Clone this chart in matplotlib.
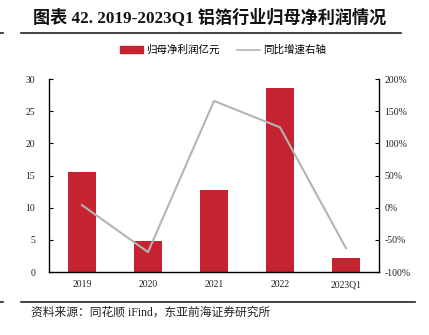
import matplotlib.pyplot as plt
from matplotlib.lines import Line2D
from matplotlib.patches import Patch
from matplotlib.ticker import FuncFormatter
import numpy as np

years = ['2019', '2020', '2021', '2022', '2023Q1']
profit = [15.6, 4.9, 12.7, 28.6, 2.2]  # 归母净利润, 亿元
yoy = [4, -69, 166, 125, -63]  # 同比增速, %

CN = ['Liberation Serif', 'Noto Sans CJK SC']
RED = '#C4232F'
GREY = '#B4B4B4'

def main():
    fig = plt.figure(figsize=(4.29, 3.35), dpi=100)
    ax = fig.add_axes([0.1142, 0.188, 0.7692, 0.576])
    x = np.arange(len(years))
    ax.bar(x, profit, width=0.42, color=RED, zorder=2)
    ax.set_ylim(0, 30); ax.set_yticks(range(0, 31, 5)); ax.set_xlim(-0.5, len(years) - 0.5)
    ax.set_xticks(x); ax.set_xticklabels(years)
    ax.tick_params(axis='y', direction='in', length=3, labelsize=7, pad=10)
    ax.tick_params(axis='x', length=0, labelsize=7, pad=6)
    ax.spines['top'].set_visible(False); ax.spines['right'].set_visible(False)
    for s in ('left', 'bottom'): ax.spines[s].set_linewidth(1.0)

    ax2 = ax.twinx()
    ax2.plot(x, yoy, color=GREY, lw=1.5, zorder=3)
    ax2.set_ylim(-100, 200); ax2.set_yticks(range(-100, 201, 50))
    ax2.yaxis.set_major_formatter(FuncFormatter(lambda v, p: f'{v:.0f}%'))
    ax2.tick_params(axis='y', direction='in', length=3, labelsize=7, pad=4)
    for s in ('top', 'left', 'bottom'): ax2.spines[s].set_visible(False)
    ax2.spines['right'].set_linewidth(1.0)
    for a in (ax, ax2):
        for lab in a.get_xticklabels() + a.get_yticklabels():
            lab.set_fontfamily('Liberation Serif'); lab.set_color('#222222')

    handles = [Patch(color=RED), Line2D([], [], color=GREY, lw=1.2)]
    fig.legend(handles, ['归母净利润亿元', '同比增速右轴'], loc='center', bbox_to_anchor=(0.52, 0.851),
               ncol=2, frameon=False, prop={'family': CN, 'size': 7.6}, handlelength=2.2, handleheight=0.55,
               handletextpad=0.3, columnspacing=1.6)

    fig.text(0.077, 0.948, '图表 42. 2019-2023Q1 铝箔行业归母净利润情况', family=CN, fontsize=12.3,
             fontweight='bold', va='center', color='#111111')
    fig.add_artist(Line2D([0.05, 0.935], [0.901, 0.901], color='#222222', lw=1.2))
    fig.add_artist(Line2D([0.0, 0.008], [0.901, 0.901], color='#222222', lw=1.2))
    fig.add_artist(Line2D([0.05, 0.967], [0.099, 0.099], color='#222222', lw=1.2))
    fig.add_artist(Line2D([0.0, 0.008], [0.099, 0.099], color='#222222', lw=1.2))
    fig.text(0.072, 0.066, '资料来源：同花顺 iFind，东亚前海证券研究所', family=CN, fontsize=8.5,
             va='center', color='#222222')
    fig.savefig('out.png', dpi=100)

if __name__ == '__main__': main()
